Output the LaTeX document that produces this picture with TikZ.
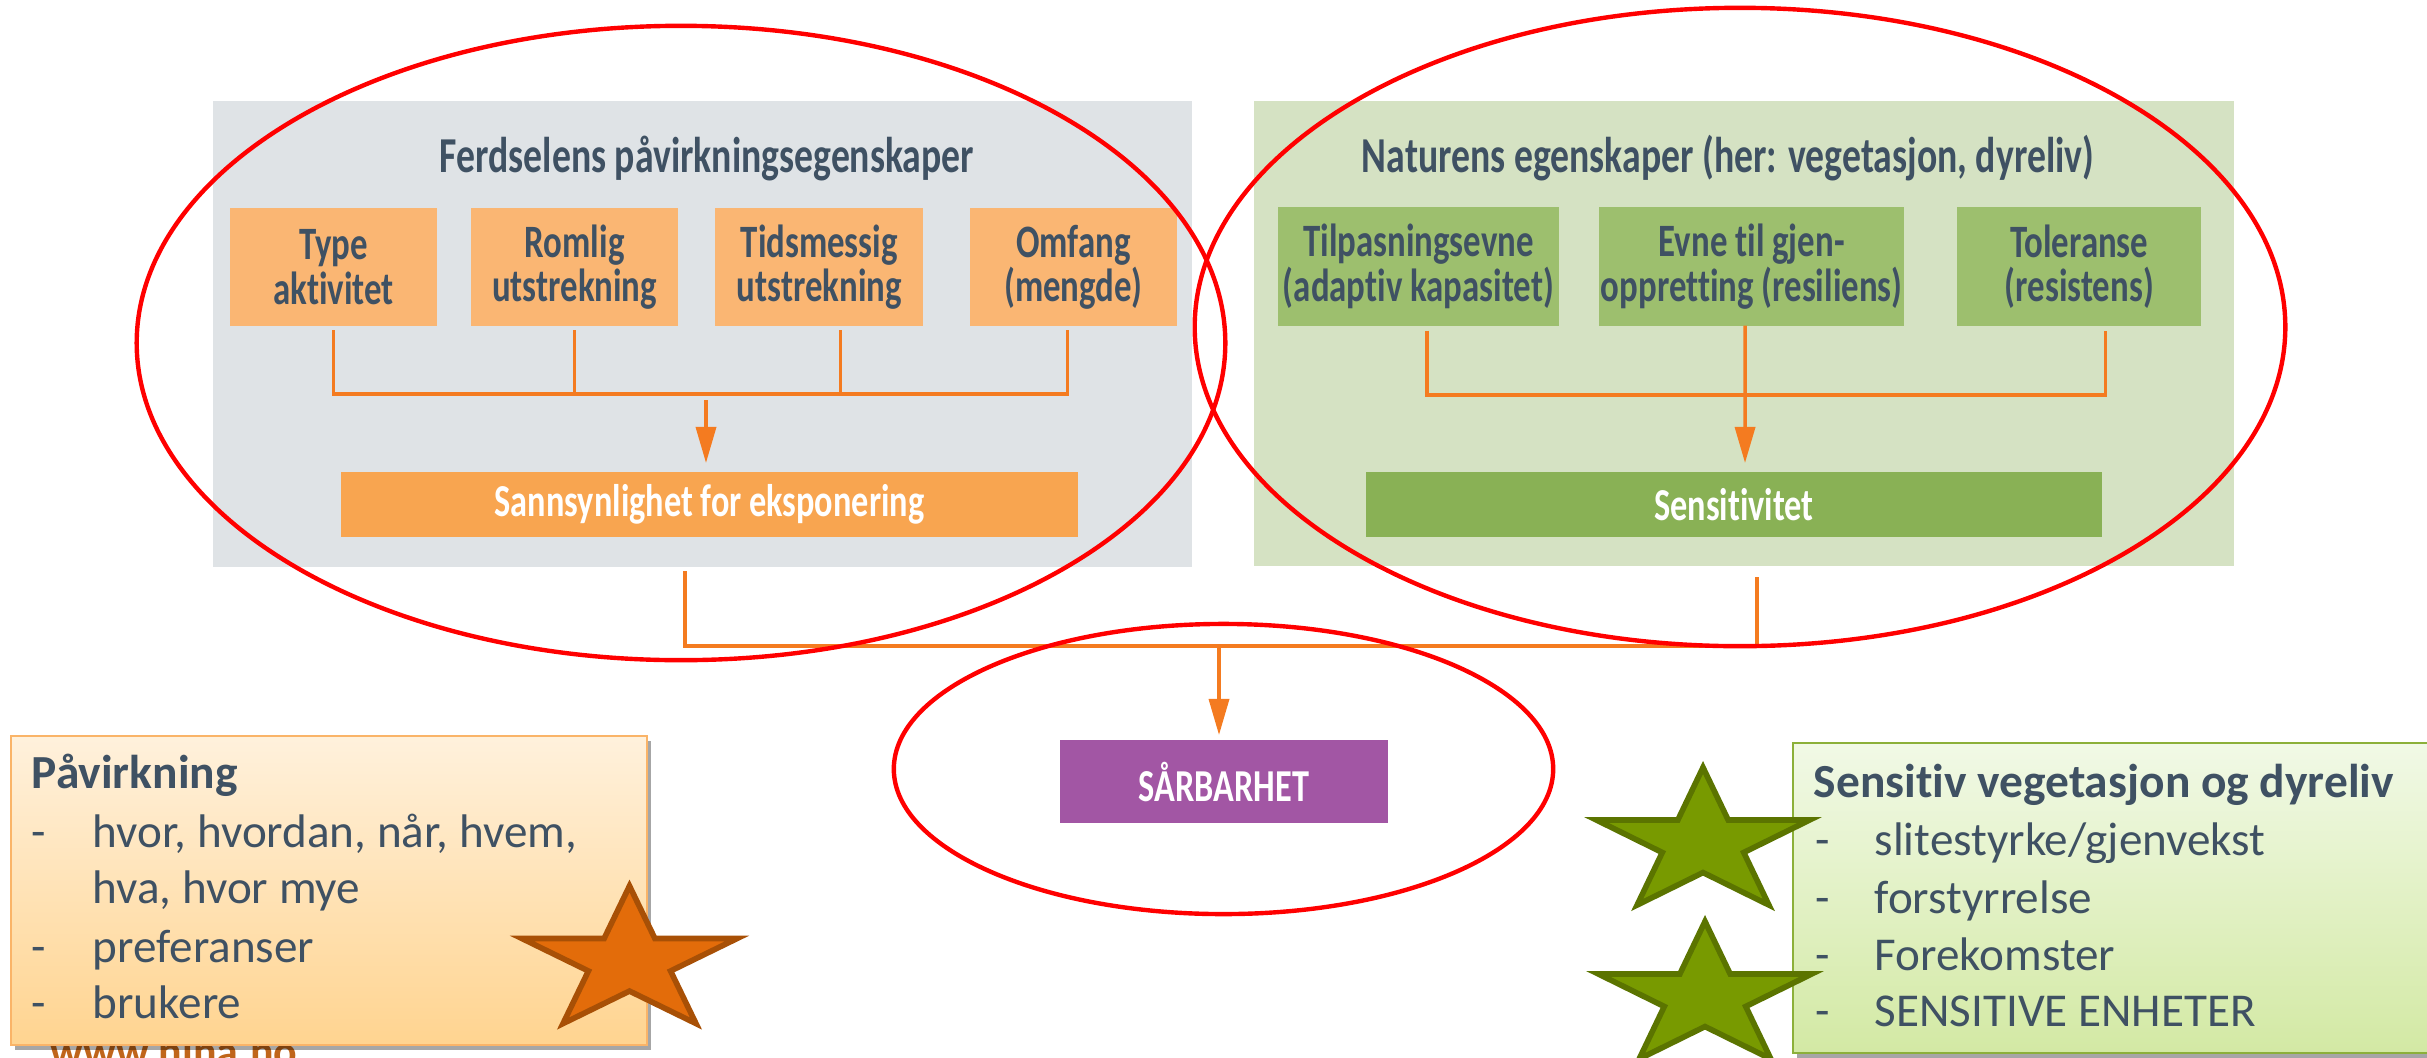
\documentclass[tikz,border=0pt]{standalone}
\usepackage{fontspec}
\setmainfont{Carlito}[Ligatures=NoCommon]
\newfontfamily\condfont{Carlito}[FakeStretch=0.75, Ligatures=NoCommon]
\usepackage{tikz}
\usetikzlibrary{positioning, arrows.meta, calc, shapes.geometric, shadows}

\definecolor{panelgray}{HTML}{DFE3E6}
\definecolor{panelgreen}{HTML}{D5E2C3}
\definecolor{boxorange}{HTML}{FAB673}
\definecolor{barorange}{HTML}{F8A550}
\definecolor{boxgreen}{HTML}{9DBF6E}
\definecolor{bargreen}{HTML}{89B155}
\definecolor{txtslate}{HTML}{3F5163}
\definecolor{lineorange}{HTML}{F47B20}
\definecolor{sarpurple}{HTML}{A256A4}
\definecolor{ringred}{HTML}{FF0000}
\definecolor{pavtop}{HTML}{FFF1DC}
\definecolor{pavbot}{HTML}{FFD490}
\definecolor{pavedge}{HTML}{FAB468}
\definecolor{sentop}{HTML}{F1F9E6}
\definecolor{senbot}{HTML}{D3E9A4}
\definecolor{senedge}{HTML}{8CB03A}
\definecolor{starorange}{HTML}{E36C0A}
\definecolor{staroedge}{HTML}{A85006}
\definecolor{stargreen}{HTML}{789A00}
\definecolor{stargedge}{HTML}{5B7400}
\definecolor{ninabrown}{HTML}{C0651A}

\tikzset{
  panel/.style={inner sep=0pt, outer sep=0pt},
  ptitle/.style={anchor=base, inner sep=0pt, text=txtslate, font=\condfont\bfseries\fontsize{14.3}{16}\selectfont},
  obox/.style={fill=boxorange, text=txtslate, align=center, inner sep=0pt, outer sep=0pt,
    minimum height=1.18cm, font=\condfont\bfseries\fontsize{13.2}{12.6}\selectfont},
  gbox/.style={obox, fill=boxgreen},
  bar/.style={inner sep=0pt, outer sep=0pt, minimum height=0.65cm, text=white,
    font=\condfont\bfseries\fontsize{13}{14}\selectfont},
  conn/.style={draw=lineorange, line width=1pt},
  arr/.style={conn, -{Triangle[length=0.36cm, width=0.2cm]}},
  ring/.style={draw=ringred, line width=1.25pt},
  infobox/.style={inner sep=0pt, outer sep=0pt, line width=0.7pt,
    drop shadow={shadow xshift=0.04cm, shadow yshift=-0.05cm, fill=black, opacity=0.35}},
  infohead/.style={anchor=base west, inner sep=0pt, text=txtslate, font=\bfseries\fontsize{13.5}{16}\selectfont},
  infoitem/.style={anchor=base west, inner sep=0pt, text=txtslate, font=\fontsize{13.4}{16}\selectfont},
  bigstar/.style={star, star points=5, star point ratio=2.618, inner sep=0pt,
    minimum size=1.52cm, line width=1.6pt}
}

\begin{document}
\begin{tikzpicture}[x=0.01cm, y=-0.01cm]
\useasboundingbox (0,0) rectangle (2427,1057);

% upper panels
\node[panel, fill=panelgray, minimum width=9.79cm, minimum height=4.66cm] (ferdpanel) at (702.5,334) {};
\node[panel, fill=panelgreen, minimum width=9.80cm, minimum height=4.65cm] (natpanel) at (1744,333.5) {};
\node[ptitle] (ferdtitle) at (707,172) {Ferdselens påvirkningsegenskaper};
\node[ptitle] (nattitle) at (1728,172) {Naturens egenskaper (her: vegetasjon, dyreliv)};

% traffic properties
\node[obox, minimum width=2.07cm] (type) at (333.5,267) {Type\\aktivitet};
\node[obox, minimum width=2.07cm, right=0.34cm of type] (romlig) {Romlig\\utstrekning};
\node[obox, minimum width=2.08cm, right=0.37cm of romlig] (tids) {Tidsmessig\\utstrekning};
\node[obox, minimum width=2.06cm, right=0.47cm of tids] (omfang) {Omfang\\(mengde)};
\node[bar, fill=barorange, minimum width=7.37cm] (sann) at (709.5,504.5) {Sannsynlighet for eksponering};

% nature properties
\node[gbox, minimum width=2.81cm] (tilp) at (1418.5,266.5) {Tilpasningsevne\\(adaptiv kapasitet)};
\node[gbox, minimum width=3.05cm, right=0.40cm of tilp] (evne) {Evne til gjen-\\oppretting (resiliens)};
\node[gbox, minimum width=2.44cm, right=0.53cm of evne] (tol) {Toleranse\\(resistens)};
\node[bar, fill=bargreen, minimum width=7.36cm] (sens) at (1734,504.5) {Sensitivitet};

% connectors
\coordinate (ljoin) at (706,394);
\coordinate (rjoin) at (1745,395);
\coordinate (bjoin) at (1219,646);
\draw[conn] ([yshift=-0.04cm]type.south) |- (ljoin) -| ([xshift=-0.06cm, yshift=-0.04cm]omfang.south);
\draw[conn] ([yshift=-0.04cm]romlig.south) -- (romlig.south |- ljoin);
\draw[conn] ([xshift=0.21cm, yshift=-0.04cm]tids.south) -- ([xshift=0.21cm]tids.south |- ljoin);
\draw[arr, shorten >=0.09cm] ([yshift=-0.06cm]ljoin) -- (sann.north -| ljoin);
\draw[conn] ([xshift=0.085cm, yshift=-0.05cm]tilp.south) |- (rjoin) -| ([xshift=0.26cm, yshift=-0.05cm]tol.south);
\draw[arr, shorten >=0.09cm] ([xshift=-0.065cm]evne.south) -- (sens.north -| rjoin);

% vulnerability
\node[bar, fill=sarpurple, minimum width=3.28cm, minimum height=0.83cm] (sar) at (1224,781.5) {SÅRBARHET};
\draw[conn] ([xshift=-0.175cm, yshift=-0.04cm]ferdpanel.south) |- (bjoin) -| ([xshift=0.13cm, yshift=-0.11cm]natpanel.south);
\draw[arr, shorten >=0.05cm] (bjoin) -- (sar.north -| bjoin);

% lower info boxes
\node[anchor=base west, inner sep=0pt, text=ninabrown, font=\bfseries\fontsize{12.5}{15}\selectfont] (nina) at (50,1066) {www.nina.no};
\node[infobox, draw=pavedge, top color=pavtop, bottom color=pavbot, minimum width=6.36cm, minimum height=3.09cm] (pavbox) at (329,890.5) {};
\node[infohead] (pavhead) at (31,788) {Påvirkning};
\foreach \n/\y/\t in {1/847/{hvor, hvordan, når, hvem,}, 2/962/preferanser, 3/1018/brukere} {
  \node[infoitem] (pavdash\n) at (31,\y) {-};
  \node[infoitem] (pavitem\n) at (92,\y) {\t};
}
\node[infoitem] (pavitemx) at (92,903) {hva, hvor mye};

\node[infobox, draw=senedge, top color=sentop, bottom color=senbot, minimum width=6.47cm, minimum height=3.10cm] (senbox) at (2116.5,898) {};
\node[infohead] (senhead) at (1813,797) {Sensitiv vegetasjon og dyreliv};
\foreach \n/\y/\t in {1/855/{slitestyrke/gjenvekst}, 2/913/forstyrrelse, 3/970/Forekomster, 4/1026/SENSITIVE ENHETER} {
  \node[infoitem] (sendash\n) at (1815,\y) {-};
  \node[infoitem] (senitem\n) at (1874,\y) {\t};
}

% stars
\node[bigstar, fill=starorange, draw=staroedge, xscale=1.487] (ostar) at (629.5,962) {};
\node[bigstar, fill=stargreen, draw=stargedge, xscale=1.474] (gstar1) at (1703,843.5) {};
\node[bigstar, fill=stargreen, draw=stargedge, xscale=1.474] (gstar2) at (1705,997.5) {};

% rings
\draw[ring] (681,343) ellipse [x radius=5.44cm, y radius=3.17cm];
\draw[ring] (1740,327) ellipse [x radius=5.45cm, y radius=3.19cm];
\draw[ring] (1223.5,769) ellipse [x radius=3.295cm, y radius=1.45cm];
\end{tikzpicture}
\end{document}
